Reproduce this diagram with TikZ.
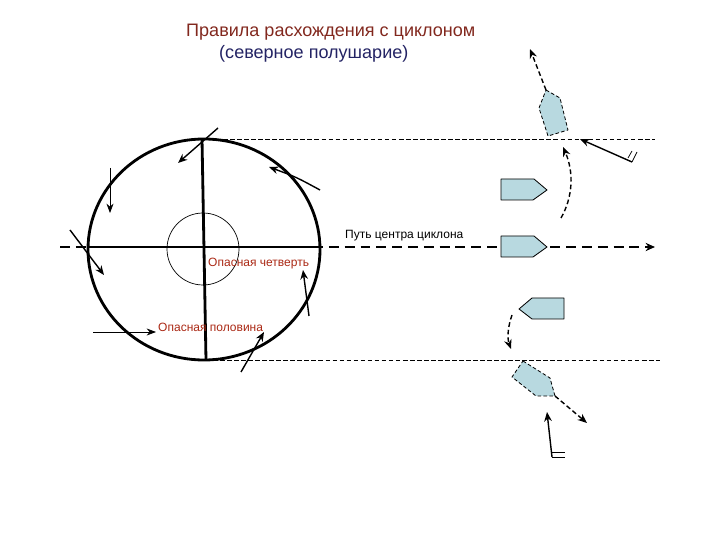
\documentclass[tikz,border=0pt]{standalone}
\usepackage{fontspec}
\setmainfont{Liberation Sans}
\usetikzlibrary{arrows.meta}
\definecolor{shipblue}{RGB}{184,217,224}
\definecolor{labelred}{RGB}{170,40,20}
\definecolor{titlered}{RGB}{130,40,30}
\definecolor{titlenavy}{RGB}{35,35,100}
\tikzset{
  shipfill/.style={draw=black,fill=shipblue,line width=0.7pt},
  shipdash/.style={shipfill,densely dashed},
  wind/.style={line width=1.2pt,-{Stealth[length=8pt,width=6.5pt]}},
  thinwind/.style={line width=0.7pt,-{Stealth[length=8pt,width=6pt]}},
  course/.style={line width=1.2pt,dash pattern=on 4pt off 2.5pt,-{Stealth[length=8pt,width=6.5pt]}},
  guide/.style={line width=0.6pt,dash pattern=on 4pt off 2pt},
  barb/.style={line width=0.6pt},
  smalltext/.style={font=\fontsize{10.25pt}{12pt}\selectfont,inner sep=0pt},
  titletext/.style={font=\fontsize{15.4pt}{18pt}\selectfont,inner sep=0pt}
}
\begin{document}
\begin{tikzpicture}[x=0.03cm,y=-0.03cm,line join=round]
  \useasboundingbox (0,0) rectangle (720,540);
  % title
  \node[titletext,text=titlered,anchor=west] (title) at (186,32.5) {Правила расхождения с циклоном};
  \node[titletext,text=titlenavy,anchor=west] (subtitle) at (219,53.5) {(северное полушарие)};
  % storm circle and its axes
  \coordinate (N) at (202,139);
  \coordinate (S) at (206,360);
  \coordinate (W) at (88,247);
  \coordinate (E) at (320,247);
  \draw[line width=0.6pt] (203,249) circle (36);
  \draw[line width=2.4pt] (204,249.5) ellipse (116 and 110.5);
  \draw[line width=2.4pt] (N)--(S);
  \draw[line width=2.4pt] (W)--(E);
  % track of the centre and the limits of the storm
  \draw[line width=2.4pt,dash pattern=on 8.5pt off 5pt,-{Stealth[length=8pt,width=7pt]}] (60,247)--(655,247);
  \draw[guide] (N)--(655,139);
  \draw[guide] (S)--(660,360);
  % wind round the circle
  \draw[wind] (218,128)--(178,163);
  \draw[thinwind] (110,168)--(110,213);
  \draw[wind] (320,190) .. controls (296,177) .. (269,167);
  \draw[wind] (70,230)--(104,275);
  \draw[wind] (309,316)--(303,270);
  \draw[thinwind] (93,332)--(156,332);
  \draw[wind] (241,372)--(264,332);
  % labels
  \node[smalltext,text=labelred,anchor=west] (quarter) at (208,264) {Опасная четверть};
  \node[smalltext,text=labelred,anchor=west] (half) at (158,327.5) {Опасная половина};
  \node[smalltext,anchor=west] (track) at (345,236) {Путь центра циклона};
  % ships, upper side
  \draw[course] (546,90)--(530,49);
  \draw[shipdash] (546,90)--(560,98)--(568,130)--(548,136)--(539,108)--cycle;
  \draw[course] (561,218) .. controls (573,197) and (574,172) .. (563,147);
  \draw[shipfill] (501,179)--(534,179)--(547,190)--(533,200)--(501,200)--cycle;
  \draw[shipfill] (501,236)--(534,236)--(547,247)--(533,257)--(501,257)--cycle;
  % ships, lower side
  \draw[shipfill] (564,298)--(532,298)--(519,309)--(532,319)--(564,319)--cycle;
  \draw[course] (512,315) .. controls (508,326) and (507,338) .. (511,349);
  \draw[shipdash] (523,361)--(550,378)--(555,396)--(536,396)--(512,377)--cycle;
  \draw[course] (555,396)--(587,423);
  % wind at the ships, with barbs
  \draw[wind] (632,162)--(580,139);
  \draw[barb] (628,158)--(632,151);
  \draw[barb] (632,162)--(637,152);
  \draw[wind] (552,457)--(547,412);
  \draw[barb] (552,452)--(565,452);
  \draw[barb] (552,457)--(565,457);
\end{tikzpicture}
\end{document}
